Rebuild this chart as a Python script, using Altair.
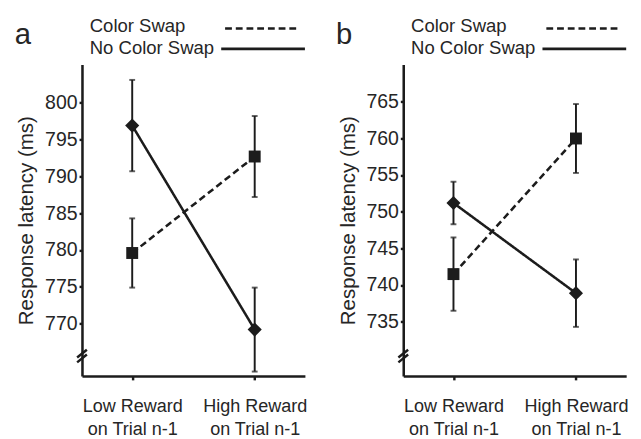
import altair as alt
import pandas as pd

conditions = ["Low", "High"]
series_names = ["Color Swap", "No Color Swap"]

# Panel a
a_color_swap = [779.6, 792.7]
a_color_swap_err = [4.7, 5.5]
a_no_swap = [796.9, 769.2]
a_no_swap_err = [6.2, 5.7]
a_ticks = [770, 775, 780, 785, 790, 795, 800]
a_domain = [762.9, 805.2]

# Panel b
b_color_swap = [741.5, 760.0]
b_color_swap_err = [5.0, 4.7]
b_no_swap = [751.2, 738.9]
b_no_swap_err = [2.9, 4.6]
b_ticks = [735, 740, 745, 750, 755, 760, 765]
b_domain = [727.6, 770.1]

FONT = "Liberation Sans"
INK = "#1c1c1c"
TXT = "#262626"
W, H = 229, 320


def panel(letter, cs, cs_err, ns, ns_err, ticks, domain):
    rows = []
    for i, c in enumerate(conditions):
        rows.append({"cond": c, "series": series_names[0], "mean": cs[i],
                     "lo": cs[i] - cs_err[i], "hi": cs[i] + cs_err[i]})
        rows.append({"cond": c, "series": series_names[1], "mean": ns[i],
                     "lo": ns[i] - ns_err[i], "hi": ns[i] + ns_err[i]})
    df = pd.DataFrame(rows)
    base = alt.Chart(df)
    x = alt.X("cond:N", sort=conditions,
              scale=alt.Scale(type="point", padding=0.41),
              axis=alt.Axis(title=None, labelAngle=0,
                            labelExpr="datum.value == 'Low' ? ['Low Reward', 'on Trial n-1'] : ['High Reward', 'on Trial n-1']",
                            labelLineHeight=24, labelPadding=17, tickSize=4,
                            labelFontSize=18.5, labelBaseline="top"))
    yscale = alt.Scale(domain=domain, nice=False, zero=False)
    y = alt.Y("mean:Q", scale=yscale,
              axis=alt.Axis(values=ticks, title="Response latency (ms)",
                            tickSize=3, labelPadding=2, titlePadding=8,
                            labelFontSize=20, titleFontSize=21,
                            format="d"))
    lines = base.mark_line(color=INK, strokeWidth=2.6).encode(
        x=x, y=y,
        strokeDash=alt.StrokeDash("series:N",
                                  scale=alt.Scale(domain=series_names, range=[[7, 4], [1, 0]]),
                                  legend=None),
        detail="series:N")
    bars = base.mark_rule(color=INK, strokeWidth=2).encode(
        x=x, y=alt.Y("lo:Q", scale=yscale), y2="hi:Q")
    cap_lo = base.mark_tick(color=INK, orient="horizontal", size=6, thickness=2).encode(
        x=x, y=alt.Y("lo:Q", scale=yscale))
    cap_hi = base.mark_tick(color=INK, orient="horizontal", size=6, thickness=2).encode(
        x=x, y=alt.Y("hi:Q", scale=yscale))
    pts = base.mark_point(filled=True, opacity=1, color=INK).encode(
        x=x, y=y,
        shape=alt.Shape("series:N", scale=alt.Scale(domain=series_names, range=["square", "diamond"]), legend=None),
        size=alt.Size("series:N", scale=alt.Scale(domain=series_names, range=[150, 210]), legend=None))

    one = alt.Chart(pd.DataFrame({"k": [0]}))
    t1 = one.mark_text(text=series_names[0], font=FONT, fontSize=19, color=TXT,
                       align="left", baseline="alphabetic").encode(x=alt.value(8), y=alt.value(-33))
    t2 = one.mark_text(text=series_names[1], font=FONT, fontSize=19, color=TXT,
                       align="left", baseline="alphabetic").encode(x=alt.value(8), y=alt.value(-11))
    l1 = one.mark_rule(color=INK, strokeWidth=2.6, strokeDash=[7, 4]).encode(
        x=alt.value(147), x2=alt.value(223), y=alt.value(-37))
    l2 = one.mark_rule(color=INK, strokeWidth=2.6).encode(
        x=alt.value(143), x2=alt.value(229), y=alt.value(-16))
    lt = one.mark_text(text=letter, font=FONT, fontSize=30, color=TXT,
                       align="left", baseline="alphabetic").encode(x=alt.value(-69), y=alt.value(-21))
    br1 = one.mark_rule(color=INK, strokeWidth=2.5).encode(
        x=alt.value(-5), x2=alt.value(5), y=alt.value(301), y2=alt.value(293))
    br2 = one.mark_rule(color=INK, strokeWidth=2.5).encode(
        x=alt.value(-5), x2=alt.value(5), y=alt.value(306), y2=alt.value(298))

    return alt.layer(lines, bars, cap_lo, cap_hi, pts, t1, t2, l1, l2, lt, br1, br2).properties(
        width=W, height=H)


pa = panel("a", a_color_swap, a_color_swap_err, a_no_swap, a_no_swap_err, a_ticks, a_domain)
pb = panel("b", b_color_swap, b_color_swap_err, b_no_swap, b_no_swap_err, b_ticks, b_domain)

chart = alt.hconcat(pa, pb, spacing=30).configure_view(stroke=None).configure_axis(
    grid=False, domainColor=INK, domainWidth=2.6, tickColor=INK, tickWidth=2.5,
    labelFont=FONT, labelColor=TXT,
    titleFont=FONT, titleFontWeight="normal", titleColor=TXT
).properties(background="white", padding={"left": 7, "top": 4, "right": 5, "bottom": 5})

chart.save("out.html", embed_options={"renderer": "svg", "actions": False})
